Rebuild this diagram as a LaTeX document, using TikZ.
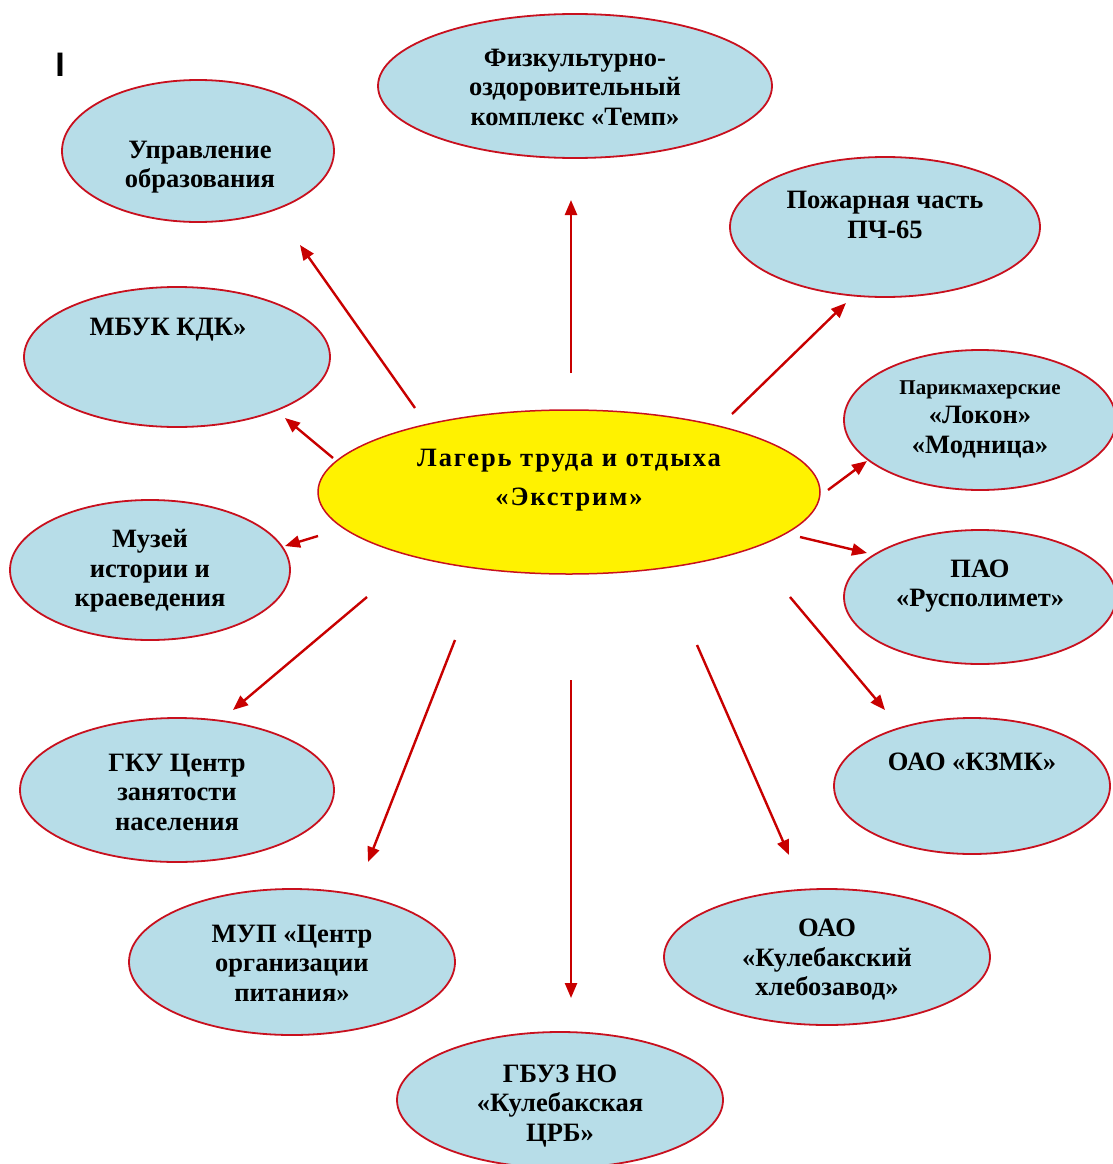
\documentclass[tikz,border=0pt]{standalone}
\usepackage{fontspec}
\setmainfont{Liberation Serif}
\newfontfamily\marksans{Liberation Sans}
\usetikzlibrary{arrows.meta,shapes.geometric}
\definecolor{bubblefill}{RGB}{183,221,232}
\definecolor{edgered}{RGB}{200,16,30}
\definecolor{arrowred}{RGB}{200,0,0}
\tikzset{
  bubble/.style={ellipse, draw=edgered, line width=1.8pt, fill=bubblefill, inner sep=0pt},
  campbubble/.style={ellipse, draw=edgered, line width=1.5pt, fill=yellow, inner sep=0pt},
  txt/.style={align=center, font=\bfseries\fontsize{26.5}{29.5}\selectfont, inner sep=0pt},
  link/.style={draw=arrowred, line width=2.4pt, -{Triangle[length=15pt,width=12pt]}},
}
\begin{document}
\begin{tikzpicture}[x=1pt,y=-1pt]
\useasboundingbox (0,0) rectangle (1112,1164);
% bubbles
\node[bubble, minimum width=394pt, minimum height=144pt] (fiz) at (575,86) {};
\node[bubble, minimum width=272pt, minimum height=142pt] (upr) at (198,151) {};
\node[bubble, minimum width=310pt, minimum height=140pt] (pozh) at (885,227) {};
\node[bubble, minimum width=306pt, minimum height=140pt] (mbuk) at (177,357) {};
\node[bubble, minimum width=272pt, minimum height=140pt] (parik) at (980,420) {};
\node[campbubble, minimum width=502pt, minimum height=164pt] (camp) at (569,492) {};
\node[bubble, minimum width=280pt, minimum height=140pt] (muz) at (150,570) {};
\node[bubble, minimum width=272pt, minimum height=134pt] (pao) at (980,597) {};
\node[bubble, minimum width=276pt, minimum height=136pt] (kzmk) at (972,786) {};
\node[bubble, minimum width=314pt, minimum height=144pt] (gku) at (177,790) {};
\node[bubble, minimum width=326pt, minimum height=146pt] (mup) at (292,962) {};
\node[bubble, minimum width=326pt, minimum height=136pt] (hleb) at (827,957) {};
\node[bubble, minimum width=326pt, minimum height=136pt] (gbuz) at (560,1100) {};
% texts
\node[txt] (fizt) at (575,87) {Физкультурно-\\оздоровительный\\комплекс «Темп»};
\node[txt] (uprt) at (200,167) {Управление\\образования};
\node[txt] (pozht) at (885,215) {Пожарная часть\\ПЧ-65};
\node[txt] (mbukt) at (168,330) {МБУК КДК»};
\node[txt] (parikt) at (980,419) {{\fontsize{21}{29.5}\selectfont Парикмахерские}\\«Локон»\\«Модница»};
\node[txt, font=\bfseries\fontsize{26.5}{39}\selectfont\addfontfeatures{LetterSpace=7}] (campt) at (569,480) {Лагерь труда и отдыха\\«Экстрим»};
\node[txt] (muzt) at (150,571) {Музей\\истории и\\краеведения};
\node[txt] (paot) at (980,586) {ПАО\\«Русполимет»};
\node[txt] (kzmkt) at (972,762) {ОАО «КЗМК»};
\node[txt] (gkut) at (177,792) {ГКУ Центр\\занятости\\населения};
\node[txt] (mupt) at (292,963) {МУП «Центр\\организации\\питания»};
\node[txt] (hlebt) at (827,960) {ОАО\\«Кулебакский\\хлебозавод»};
\node[txt] (gbuzt) at (560,1106) {ГБУЗ НО\\«Кулебакская\\ЦРБ»};
% cursor mark
\node[inner sep=0pt, font=\marksans\bfseries\fontsize{34}{34}\selectfont] (mark) at (60,65) {I};
% connector ends
\coordinate (s1) at (571,373);  \coordinate (e1) at (571,200);
\coordinate (s2) at (415,408);  \coordinate (e2) at (300,245);
\coordinate (s3) at (333,458);  \coordinate (e3) at (285,418);
\coordinate (s4) at (318,536);  \coordinate (e4) at (285,546);
\coordinate (s5) at (367,597);  \coordinate (e5) at (233,710);
\coordinate (s6) at (455,640);  \coordinate (e6) at (368,862);
\coordinate (s7) at (571,680);  \coordinate (e7) at (571,998);
\coordinate (s8) at (697,645);  \coordinate (e8) at (789,855);
\coordinate (s9) at (790,597);  \coordinate (e9) at (885,710);
\coordinate (s10) at (800,537); \coordinate (e10) at (867,553);
\coordinate (s11) at (828,490); \coordinate (e11) at (867,461);
\coordinate (s12) at (732,414); \coordinate (e12) at (846,303);
\foreach \i in {1,...,12} { \draw[link] (s\i) -- (e\i); }
\end{tikzpicture}
\end{document}
